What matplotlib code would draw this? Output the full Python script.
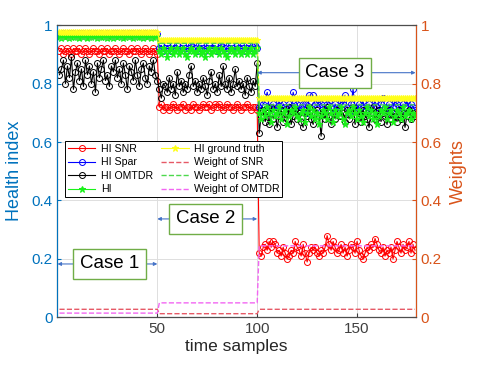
import matplotlib
matplotlib.use("Agg")
import matplotlib.pyplot as plt
import numpy as np

plt.rcParams['font.family'] = ['Liberation Sans', 'DejaVu Sans']

# segment lengths (case 1, case 2, case 3)
seg_len = [50, 50, 79]

hi_snr = [
    0.91, 0.92, 0.90, 0.91, 0.92, 0.91, 0.90, 0.92, 0.91, 0.91,
    0.92, 0.90, 0.91, 0.92, 0.91, 0.90, 0.91, 0.92, 0.91, 0.91,
    0.90, 0.92, 0.91, 0.91, 0.92, 0.90, 0.91, 0.91, 0.92, 0.91,
    0.90, 0.91, 0.92, 0.91, 0.91, 0.90, 0.92, 0.91, 0.91, 0.92,
    0.91, 0.90, 0.91, 0.92, 0.91, 0.90, 0.91, 0.92, 0.91, 0.90,
    0.72, 0.73, 0.71, 0.72, 0.72, 0.71, 0.72, 0.73, 0.72, 0.71,
    0.72, 0.72, 0.73, 0.71, 0.72, 0.72, 0.71, 0.73, 0.72, 0.72,
    0.71, 0.72, 0.73, 0.72, 0.72, 0.73, 0.71, 0.72, 0.73, 0.72,
    0.73, 0.72, 0.71, 0.72, 0.73, 0.72, 0.72, 0.71, 0.72, 0.73,
    0.72, 0.71, 0.72, 0.72, 0.73, 0.72, 0.71, 0.72, 0.72, 0.71,
    0.22, 0.21, 0.24, 0.25, 0.23, 0.26, 0.24, 0.26, 0.25, 0.22,
    0.23, 0.21, 0.24, 0.22, 0.20, 0.21, 0.23, 0.22, 0.26, 0.24,
    0.23, 0.21, 0.25, 0.22, 0.19, 0.22, 0.24, 0.23, 0.24, 0.22,
    0.21, 0.23, 0.22, 0.24, 0.28, 0.25, 0.23, 0.26, 0.24, 0.22,
    0.23, 0.25, 0.22, 0.24, 0.21, 0.23, 0.25, 0.24, 0.22, 0.26,
    0.23, 0.21, 0.20, 0.22, 0.24, 0.23, 0.25, 0.24, 0.27, 0.25,
    0.23, 0.22, 0.24, 0.21, 0.23, 0.22, 0.24, 0.20, 0.23, 0.26,
    0.24, 0.22, 0.25, 0.23, 0.24, 0.26, 0.22, 0.25, 0.23]

hi_spar = [
    0.970, 0.968, 0.972, 0.970, 0.966, 0.971, 0.969, 0.973, 0.970, 0.967,
    0.971, 0.969, 0.972, 0.968, 0.970, 0.973, 0.969, 0.967, 0.971, 0.970,
    0.968, 0.972, 0.970, 0.969, 0.973, 0.967, 0.970, 0.971, 0.968, 0.972,
    0.970, 0.969, 0.973, 0.968, 0.970, 0.971, 0.967, 0.972, 0.969, 0.970,
    0.971, 0.968, 0.970, 0.973, 0.969, 0.967, 0.971, 0.970, 0.972, 0.969,
    0.92, 0.93, 0.91, 0.92, 0.93, 0.92, 0.91, 0.93, 0.92, 0.93,
    0.91, 0.92, 0.93, 0.92, 0.91, 0.92, 0.93, 0.94, 0.92, 0.91,
    0.92, 0.93, 0.92, 0.91, 0.92, 0.93, 0.92, 0.92, 0.93, 0.91,
    0.92, 0.93, 0.94, 0.92, 0.91, 0.92, 0.93, 0.92, 0.91, 0.93,
    0.92, 0.93, 0.92, 0.91, 0.92, 0.93, 0.92, 0.94, 0.93, 0.92,
    0.72, 0.71, 0.73, 0.74, 0.77, 0.72, 0.70, 0.73, 0.71, 0.72,
    0.74, 0.71, 0.73, 0.72, 0.70, 0.73, 0.72, 0.77, 0.74, 0.73,
    0.71, 0.72, 0.73, 0.73, 0.70, 0.76, 0.74, 0.76, 0.73, 0.72,
    0.74, 0.73, 0.72, 0.71, 0.73, 0.74, 0.72, 0.70, 0.73, 0.71,
    0.72, 0.74, 0.73, 0.76, 0.72, 0.70, 0.73, 0.78, 0.72, 0.71,
    0.73, 0.72, 0.74, 0.71, 0.72, 0.73, 0.70, 0.72, 0.74, 0.72,
    0.71, 0.73, 0.75, 0.72, 0.70, 0.73, 0.71, 0.72, 0.74, 0.73,
    0.72, 0.71, 0.73, 0.72, 0.74, 0.71, 0.73, 0.72, 0.71]

hi_omtdr = [
    0.83, 0.85, 0.88, 0.80, 0.86, 0.82, 0.89, 0.78, 0.84, 0.87,
    0.81, 0.85, 0.79, 0.88, 0.83, 0.86, 0.80, 0.84, 0.77, 0.87,
    0.82, 0.85, 0.88, 0.81, 0.83, 0.79, 0.86, 0.84, 0.88, 0.82,
    0.85, 0.80, 0.87, 0.83, 0.78, 0.86, 0.84, 0.81, 0.88, 0.83,
    0.79, 0.85, 0.87, 0.82, 0.80, 0.86, 0.84, 0.88, 0.83, 0.81,
    0.78, 0.75, 0.80, 0.79, 0.77, 0.82, 0.78, 0.80, 0.76, 0.84,
    0.79, 0.81, 0.77, 0.80, 0.78, 0.83, 0.86, 0.79, 0.81, 0.77,
    0.80, 0.78, 0.82, 0.79, 0.76, 0.81, 0.84, 0.78, 0.80, 0.77,
    0.83, 0.79, 0.86, 0.80, 0.78, 0.82, 0.77, 0.80, 0.85, 0.79,
    0.81, 0.78, 0.80, 0.76, 0.82, 0.79, 0.77, 0.81, 0.79, 0.87,
    0.63, 0.69, 0.71, 0.67, 0.70, 0.66, 0.72, 0.68, 0.70, 0.65,
    0.69, 0.71, 0.67, 0.70, 0.68, 0.72, 0.66, 0.69, 0.71, 0.68,
    0.70, 0.67, 0.65, 0.70, 0.69, 0.72, 0.68, 0.66, 0.70, 0.71,
    0.69, 0.62, 0.70, 0.68, 0.72, 0.69, 0.66, 0.70, 0.68, 0.71,
    0.69, 0.69, 0.70, 0.67, 0.71, 0.68, 0.70, 0.72, 0.66, 0.69,
    0.70, 0.67, 0.71, 0.69, 0.68, 0.65, 0.70, 0.72, 0.68, 0.69,
    0.71, 0.67, 0.70, 0.69, 0.66, 0.71, 0.68, 0.70, 0.69, 0.67,
    0.71, 0.68, 0.70, 0.65, 0.69, 0.71, 0.68, 0.70, 0.69]

hi = [
    0.960, 0.957, 0.962, 0.958, 0.961, 0.956, 0.960, 0.963, 0.958, 0.960,
    0.957, 0.961, 0.959, 0.962, 0.956, 0.960, 0.958, 0.961, 0.963, 0.957,
    0.960, 0.958, 0.962, 0.959, 0.956, 0.961, 0.960, 0.957, 0.962, 0.958,
    0.961, 0.959, 0.956, 0.960, 0.962, 0.958, 0.961, 0.957, 0.960, 0.963,
    0.958, 0.960, 0.957, 0.961, 0.959, 0.962, 0.956, 0.960, 0.958, 0.961,
    0.91, 0.90, 0.92, 0.91, 0.89, 0.91, 0.92, 0.90, 0.91, 0.92,
    0.90, 0.91, 0.92, 0.90, 0.89, 0.91, 0.92, 0.91, 0.90, 0.91,
    0.92, 0.90, 0.91, 0.89, 0.91, 0.92, 0.90, 0.91, 0.92, 0.91,
    0.90, 0.92, 0.91, 0.90, 0.89, 0.91, 0.92, 0.91, 0.90, 0.92,
    0.91, 0.90, 0.91, 0.92, 0.90, 0.91, 0.92, 0.90, 0.91, 0.92,
    0.70, 0.68, 0.71, 0.69, 0.72, 0.70, 0.67, 0.71, 0.69, 0.70,
    0.72, 0.68, 0.70, 0.71, 0.66, 0.69, 0.71, 0.70, 0.72, 0.69,
    0.68, 0.70, 0.71, 0.67, 0.70, 0.72, 0.69, 0.71, 0.68, 0.70,
    0.66, 0.69, 0.71, 0.70, 0.68, 0.72, 0.70, 0.67, 0.71, 0.69,
    0.70, 0.72, 0.68, 0.66, 0.70, 0.71, 0.69, 0.72, 0.70, 0.68,
    0.71, 0.69, 0.67, 0.70, 0.72, 0.69, 0.71, 0.68, 0.70, 0.66,
    0.69, 0.71, 0.70, 0.72, 0.68, 0.70, 0.71, 0.67, 0.69, 0.71,
    0.70, 0.68, 0.72, 0.69, 0.70, 0.71, 0.68, 0.70, 0.69]

# constant levels per case
gt_levels = [0.975, 0.95, 0.75]
w_snr_levels = [0.028, 0.013, 0.028]
w_spar_levels = [0.952, 0.937, 0.727]
w_omtdr_levels = [0.015, 0.050, 0.245]

t = np.arange(1, sum(seg_len) + 1)
gt = np.repeat(gt_levels, seg_len)
w_snr = np.repeat(w_snr_levels, seg_len)
w_spar = np.repeat(w_spar_levels, seg_len)
w_omtdr = np.repeat(w_omtdr_levels, seg_len)

blue_ax = (0.0, 0.447, 0.741)
orange_ax = (0.85, 0.325, 0.098)
arrow_c = (0.27, 0.45, 0.78)
box_c = (0.44, 0.68, 0.28)

fig = plt.figure(figsize=(4.81, 3.79), dpi=100)
ax = fig.add_axes([0.1195, 0.1623, 0.7445, 0.7717])
ax2 = ax.twinx()

ms = 4.3
lw = 0.8
h1, = ax.plot(t, hi_snr, '-o', color='red', mfc='none', ms=ms, lw=lw, mew=0.7, label='HI SNR')
h2, = ax.plot(t, hi_spar, '-o', color='blue', mfc='none', ms=ms, lw=lw, mew=0.7, label='HI Spar')
h3, = ax.plot(t, hi_omtdr, '-o', color='black', mfc='none', ms=ms, lw=lw, mew=0.7, label='HI OMTDR')
h4, = ax.plot(t, hi, '-*', color=(0.1, 0.95, 0.1), ms=ms + 0.5, lw=lw, mew=0.8, label='HI')
h5, = ax.plot(t, gt, '-*', color=(1.0, 1.0, 0.1), ms=ms + 0.5, lw=lw, mew=0.8, label='HI ground truth')

h6, = ax2.plot(t, w_snr, '--', color=(0.9, 0.35, 0.4), lw=1.0, label='Weight of SNR')
h7, = ax2.plot(t, w_spar, '--', color=(0.3, 0.85, 0.3), lw=1.0, label='Weight of SPAR')
h8, = ax2.plot(t, w_omtdr, '--', color=(0.95, 0.4, 0.95), lw=1.0, label='Weight of OMTDR')

ax.set_xlim(0, 179.3)
ax.set_ylim(0, 1)
ax2.set_ylim(0, 1)
ax.set_xticks([50, 100, 150])
ax.set_yticks([0, 0.2, 0.4, 0.6, 0.8, 1])
ax.set_yticklabels(['0', '0.2', '0.4', '0.6', '0.8', '1'])
ax2.set_yticks([0, 0.2, 0.4, 0.6, 0.8, 1])
ax2.set_yticklabels(['0', '0.2', '0.4', '0.6', '0.8', '1'])
ax.grid(True, color=(0.87, 0.87, 0.87), lw=0.7)
ax.set_axisbelow(True)

ax.tick_params(axis='x', direction='in', labelsize=11, colors=(0.25, 0.25, 0.25), length=3)
ax.tick_params(axis='y', direction='in', labelsize=11, colors=blue_ax, length=3)
ax2.tick_params(axis='y', direction='in', labelsize=11, colors=orange_ax, length=3)
for s in ['top', 'bottom']:
    ax2.spines[s].set_color((0.3, 0.3, 0.3))
ax2.spines['left'].set_color(blue_ax)
ax2.spines['right'].set_color(orange_ax)

ax.set_xlabel('time samples', fontsize=12.5, color=(0.15, 0.15, 0.15), labelpad=2)
ax.set_ylabel('Health index', fontsize=13, color=blue_ax, labelpad=6)
ax2.set_ylabel('Weights', fontsize=13, color=orange_ax, labelpad=6)

leg = ax2.legend(handles=[h1, h2, h3, h4, h5, h6, h7, h8], ncol=2, loc='upper left',
                 bbox_to_anchor=(0.022, 0.603), borderaxespad=0, fontsize=7.6,
                 labelspacing=0.33, handlelength=2.6, handletextpad=0.5, columnspacing=0.8,
                 borderpad=0.25, fancybox=False, framealpha=1, edgecolor='black')
leg.get_frame().set_linewidth(0.7)

# case annotations
cases = ['Case 1', 'Case 2', 'Case 3']
case_span = [(0, 50), (50, 100), (100, 179.3)]
case_y = [0.183, 0.337, 0.837]
case_x = [26, 74, 139]
for name, (x0, x1), yy, xc in zip(cases, case_span, case_y, case_x):
    ax2.annotate('', xy=(x0, yy), xytext=(x1, yy),
                 arrowprops=dict(arrowstyle='<|-|>', color=arrow_c, lw=0.8, mutation_scale=5,
                                 shrinkA=0, shrinkB=0))
    ax2.text(xc, yy, name, fontsize=13.5, ha='center', va='center',
             bbox=dict(boxstyle='square,pad=0.35', fc='white', ec=box_c, lw=1.0))

fig.savefig('out.png', dpi=100)
